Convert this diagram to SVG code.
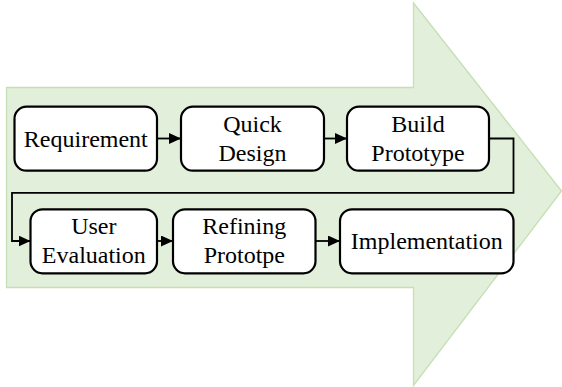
<svg xmlns="http://www.w3.org/2000/svg" width="562" height="387" viewBox="0 0 562 387" font-family="Liberation Serif, serif">
  <style>
    .node-shape { fill: #ffffff; stroke: #000000; stroke-width: 2.2; }
    .edge { fill: none; stroke: #000000; stroke-width: 1.8; }
  </style>
  <defs>
    <marker id="ah" markerUnits="userSpaceOnUse" markerWidth="12" markerHeight="11" refX="12" refY="5.5" orient="auto">
      <path d="M0,0 L12,5.5 L0,11 Z" fill="#000000"/>
    </marker>
  </defs>
  <g id="big-arrow">
    <polygon points="6.5,87.5 413.5,87.5 413.5,3 561.5,191 413.5,385.5 413.5,287.5 6.5,287.5" fill="#e2efda" stroke="#c5e0b4" stroke-width="1.3"/>
  </g>
  <g id="connectors">
    <line class="edge" x1="157" y1="138.5" x2="181" y2="138.5" marker-end="url(#ah)"/>
    <line class="edge" x1="324" y1="138.5" x2="347" y2="138.5" marker-end="url(#ah)"/>
    <polyline class="edge" points="489,138.5 513.5,138.5 513.5,192.8 12,192.8 12,241 30.5,241" marker-end="url(#ah)"/>
    <line class="edge" x1="157" y1="241" x2="173" y2="241" marker-end="url(#ah)"/>
    <line class="edge" x1="315.5" y1="241" x2="340" y2="241" marker-end="url(#ah)"/>
  </g>
  <g id="node-requirement">
    <rect class="node-shape" x="14.5" y="106.7" width="142.5" height="64" rx="12" ry="12"/>
    <text x="85.8" y="146.7" font-family="Liberation Serif" font-size="24" text-anchor="middle">Requirement</text>
  </g>
  <g id="node-quick-design">
    <rect class="node-shape" x="181" y="106.7" width="143" height="64" rx="12" ry="12"/>
    <text x="252.5" y="131.7" font-family="Liberation Serif" font-size="24" text-anchor="middle">Quick</text>
    <text x="252.5" y="160.7" font-family="Liberation Serif" font-size="24" text-anchor="middle">Design</text>
  </g>
  <g id="node-build-prototype">
    <rect class="node-shape" x="347" y="106.7" width="142" height="64" rx="12" ry="12"/>
    <text x="418" y="131.7" font-family="Liberation Serif" font-size="24" text-anchor="middle">Build</text>
    <text x="418" y="160.7" font-family="Liberation Serif" font-size="24" text-anchor="middle">Prototype</text>
  </g>
  <g id="node-user-evaluation">
    <rect class="node-shape" x="30.5" y="209.3" width="126.5" height="64" rx="12" ry="12"/>
    <text x="93.8" y="234" font-family="Liberation Serif" font-size="24" text-anchor="middle">User</text>
    <text x="93.8" y="263.3" font-family="Liberation Serif" font-size="24" text-anchor="middle">Evaluation</text>
  </g>
  <g id="node-refining-prototpe">
    <rect class="node-shape" x="173" y="209.3" width="142.5" height="64" rx="12" ry="12"/>
    <text x="244.3" y="234" font-family="Liberation Serif" font-size="24" text-anchor="middle">Refining</text>
    <text x="244.3" y="263.3" font-family="Liberation Serif" font-size="24" text-anchor="middle">Prototpe</text>
  </g>
  <g id="node-implementation">
    <rect class="node-shape" x="340" y="209.3" width="173.5" height="64" rx="12" ry="12"/>
    <text x="426.8" y="249" font-family="Liberation Serif" font-size="24" text-anchor="middle">Implementation</text>
  </g>
</svg>
